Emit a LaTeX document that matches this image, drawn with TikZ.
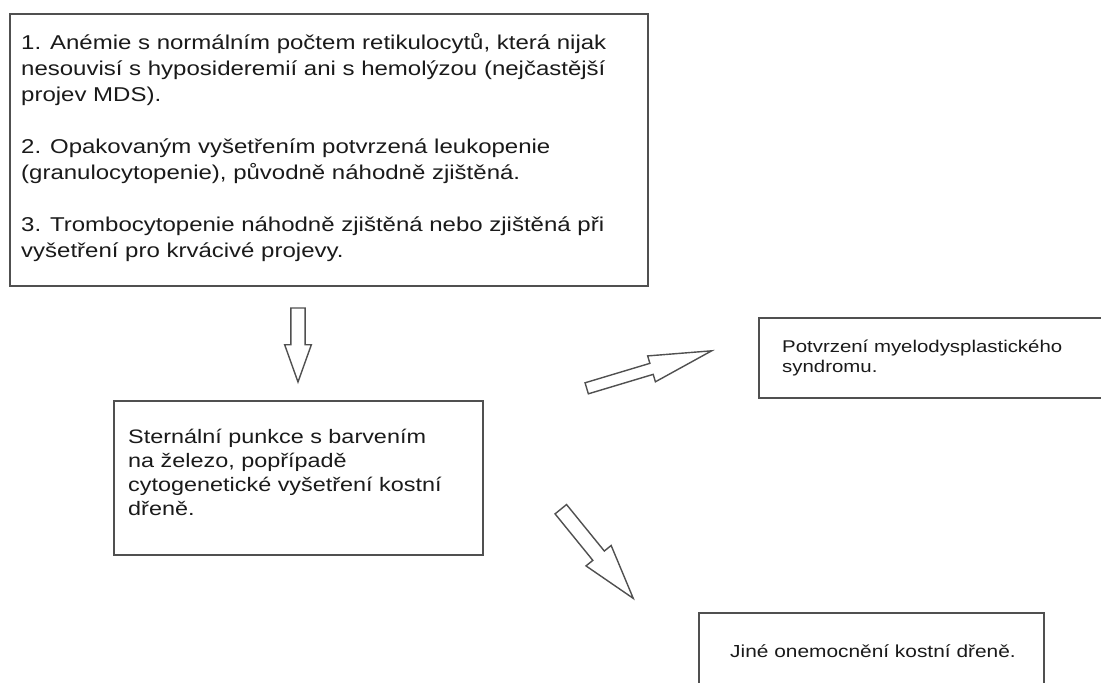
\documentclass[tikz,border=0pt]{standalone}
\usepackage{fontspec}
\newfontfamily\fA[FakeStretch=1.2]{Liberation Sans}
\definecolor{boxline}{HTML}{505050}
\definecolor{txt}{HTML}{1A1A1A}
\tikzset{
  frame/.style={draw=boxline, line width=1.6pt, inner sep=0pt, anchor=north west},
  body/.style={inner sep=0pt, anchor=north west, align=left, text=txt},
  arrowline/.style={draw=boxline, line width=1.4pt, fill=white, line join=miter},
  pics/barrow/.style n args={4}{code={
    \path[arrowline] (0,-#2/2) -- ({#1-#4},-#2/2) -- ({#1-#4},-#3/2) -- (#1,0)
      -- ({#1-#4},#3/2) -- ({#1-#4},#2/2) -- (0,#2/2) -- cycle;
  }}
}
\begin{document}
\begin{tikzpicture}[x=1pt,y=-1pt]
\useasboundingbox (0,0) rectangle (1101,683);
\clip (0,0) rectangle (1101,683);
\fill[white] (0,0) rectangle (1101,683);

% frames
\node[frame, minimum width=638pt, minimum height=272pt] (b1) at (9,13) {};
\node[frame, minimum width=369pt, minimum height=154pt] (b2) at (113,400) {};
\node[frame, minimum width=360pt, minimum height=80pt] (b3) at (758,317) {};
\node[frame, minimum width=345pt, minimum height=100pt] (b4) at (698,612) {};

% texts
\node[body, font=\fA\fontsize{20}{26}\selectfont] (t1) at (21,33)
 {1. Anémie s normálním počtem retikulocytů, která nijak\\
  nesouvisí s hyposideremií ani s hemolýzou (nejčastější\\
  projev MDS).\\[26pt]
  2. Opakovaným vyšetřením potvrzená leukopenie\\
  (granulocytopenie), původně náhodně zjištěná.\\[26pt]
  3. Trombocytopenie náhodně zjištěná nebo zjištěná při\\
  vyšetření pro krvácivé projevy.};

\node[body, font=\fA\fontsize{19.5}{24}\selectfont] (t2) at (128,429)
 {Sternální punkce s barvením\\
  na železo, popřípadě\\
  cytogenetické vyšetření kostní\\
  dřeně.};

\node[body, font=\fA\fontsize{17}{20}\selectfont] (t3) at (782,340)
 {Potvrzení myelodysplastického\\
  syndromu.};

\node[body, anchor=base west, font=\fA\fontsize{17.4}{20}\selectfont] (t4) at (730,657)
 {Jiné onemocnění kostní dřeně.};

% block arrows
\pic[rotate=-90] at (298,308) {barrow={74}{14.3}{26.7}{37.3}};
\pic[rotate=16.7] at (586.7,388.3) {barrow={130.5}{11.5}{27}{62.8}};
\pic[rotate=-50.9] at (560.8,509.2) {barrow={114.9}{14.8}{32.4}{55}};
\end{tikzpicture}
\end{document}
